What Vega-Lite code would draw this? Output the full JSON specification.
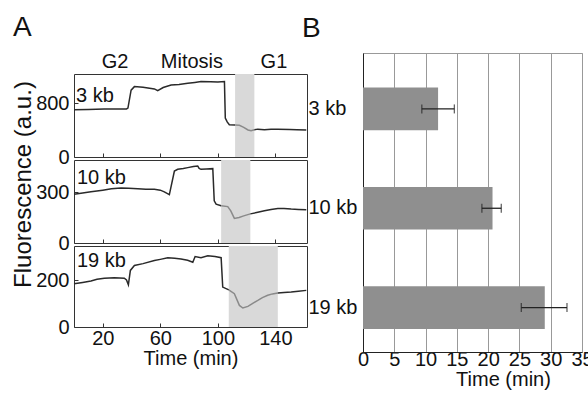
{
  "$schema": "https://vega.github.io/schema/vega-lite/v6.json",
  "padding": {"left": 10, "top": 14, "right": 0, "bottom": 0},
  "background": "white",
  "config": {
    "font": "Liberation Sans",
    "view": {"stroke": "#333", "strokeWidth": 1},
    "axis": {"labelFontSize": 20, "titleFontSize": 20, "titleFontWeight": "normal", "labelColor": "#111", "titleColor": "#111", "grid": false, "tickColor": "#333", "domainColor": "#222", "labelOverlap": false},
    "title": {"fontSize": 28, "fontWeight": "normal", "color": "#111"}
  },
  "datasets": {
    "phases": [
      {"label": "G2", "t": 28.5},
      {"label": "Mitosis", "t": 82},
      {"label": "G1", "t": 139}
    ],
    "shade": [
      {"p": 1, "s": 112, "e": 125.4},
      {"p": 2, "s": 102.3, "e": 122.6},
      {"p": 3, "s": 107.6, "e": 141.7}
    ],
    "tags": [
      {"p": 1, "t": 1.4, "v": 821, "label": "3 kb"},
      {"p": 2, "t": 2, "v": 347, "label": "10 kb"},
      {"p": 3, "t": 2, "v": 257, "label": "19 kb"}
    ],
    "lines": [
      {"p":1,"s":"a","t":0,"v":699},{"p":1,"s":"a","t":10,"v":705},{"p":1,"s":"a","t":21,"v":713},{"p":1,"s":"a","t":30,"v":712},{"p":1,"s":"a","t":36.5,"v":713},{"p":1,"s":"a","t":37.5,"v":725},{"p":1,"s":"a","t":39.7,"v":990},{"p":1,"s":"a","t":42,"v":1043},{"p":1,"s":"a","t":48,"v":1035},{"p":1,"s":"a","t":55.9,"v":1009},{"p":1,"s":"a","t":58.2,"v":984},{"p":1,"s":"a","t":62,"v":1030},{"p":1,"s":"a","t":67.5,"v":1068},{"p":1,"s":"a","t":73,"v":1075},{"p":1,"s":"a","t":79.1,"v":1093},{"p":1,"s":"a","t":84,"v":1105},{"p":1,"s":"a","t":88.3,"v":1117},{"p":1,"s":"a","t":95,"v":1115},{"p":1,"s":"a","t":100,"v":1112},{"p":1,"s":"a","t":104.6,"v":1117},{"p":1,"s":"a","t":105.2,"v":576},{"p":1,"s":"a","t":106.5,"v":520},{"p":1,"s":"a","t":108,"v":477},{"p":1,"s":"a","t":112,"v":475},
      {"p":1,"s":"b","t":112,"v":475},{"p":1,"s":"b","t":115,"v":470},{"p":1,"s":"b","t":118,"v":440},{"p":1,"s":"b","t":121,"v":400},{"p":1,"s":"b","t":123.1,"v":388},{"p":1,"s":"b","t":125.4,"v":405},
      {"p":1,"s":"c","t":125.4,"v":405},{"p":1,"s":"c","t":127.8,"v":413},{"p":1,"s":"c","t":132.4,"v":404},{"p":1,"s":"c","t":137,"v":410},{"p":1,"s":"c","t":141.7,"v":413},{"p":1,"s":"c","t":150,"v":408},{"p":1,"s":"c","t":155,"v":404},{"p":1,"s":"c","t":161.5,"v":399},
      {"p":2,"s":"a","t":0,"v":288},{"p":2,"s":"a","t":6,"v":295},{"p":2,"s":"a","t":11.8,"v":302},{"p":2,"s":"a","t":20,"v":312},{"p":2,"s":"a","t":26,"v":320},{"p":2,"s":"a","t":32.7,"v":325},{"p":2,"s":"a","t":38,"v":323},{"p":2,"s":"a","t":44.3,"v":321},{"p":2,"s":"a","t":50,"v":318},{"p":2,"s":"a","t":55.9,"v":317},{"p":2,"s":"a","t":60,"v":312},{"p":2,"s":"a","t":62.8,"v":302},{"p":2,"s":"a","t":66.3,"v":286},{"p":2,"s":"a","t":69.8,"v":425},{"p":2,"s":"a","t":72.1,"v":435},{"p":2,"s":"a","t":76,"v":440},{"p":2,"s":"a","t":79.1,"v":445},{"p":2,"s":"a","t":83,"v":452},{"p":2,"s":"a","t":86,"v":455},{"p":2,"s":"a","t":87,"v":440},{"p":2,"s":"a","t":88.3,"v":435},{"p":2,"s":"a","t":92,"v":437},{"p":2,"s":"a","t":96.5,"v":439},{"p":2,"s":"a","t":97.5,"v":249},{"p":2,"s":"a","t":98.8,"v":229},{"p":2,"s":"a","t":102.3,"v":220},
      {"p":2,"s":"b","t":102.3,"v":220},{"p":2,"s":"b","t":106.9,"v":215},{"p":2,"s":"b","t":109,"v":190},{"p":2,"s":"b","t":111.5,"v":145},{"p":2,"s":"b","t":114.8,"v":151},{"p":2,"s":"b","t":118,"v":160},{"p":2,"s":"b","t":122.6,"v":172},
      {"p":2,"s":"c","t":122.6,"v":172},{"p":2,"s":"c","t":127,"v":180},{"p":2,"s":"c","t":132.4,"v":190},{"p":2,"s":"c","t":137,"v":198},{"p":2,"s":"c","t":141.7,"v":204},{"p":2,"s":"c","t":146,"v":203},{"p":2,"s":"c","t":151,"v":200},{"p":2,"s":"c","t":156,"v":198},{"p":2,"s":"c","t":161.5,"v":196},
      {"p":3,"s":"a","t":0,"v":184},{"p":3,"s":"a","t":6,"v":190},{"p":3,"s":"a","t":11.8,"v":196},{"p":3,"s":"a","t":16,"v":203},{"p":3,"s":"a","t":21.1,"v":208},{"p":3,"s":"a","t":28,"v":210},{"p":3,"s":"a","t":35,"v":208},{"p":3,"s":"a","t":36.5,"v":200},{"p":3,"s":"a","t":37.8,"v":180},{"p":3,"s":"a","t":39.2,"v":241},{"p":3,"s":"a","t":42,"v":262},{"p":3,"s":"a","t":48,"v":270},{"p":3,"s":"a","t":55.9,"v":283},{"p":3,"s":"a","t":60,"v":288},{"p":3,"s":"a","t":65.2,"v":295},{"p":3,"s":"a","t":70,"v":293},{"p":3,"s":"a","t":74.4,"v":290},{"p":3,"s":"a","t":79,"v":284},{"p":3,"s":"a","t":82.6,"v":276},{"p":3,"s":"a","t":84.2,"v":300},{"p":3,"s":"a","t":88.3,"v":295},{"p":3,"s":"a","t":93,"v":303},{"p":3,"s":"a","t":98,"v":300},{"p":3,"s":"a","t":102.3,"v":295},{"p":3,"s":"a","t":103.4,"v":170},{"p":3,"s":"a","t":106.9,"v":160},{"p":3,"s":"a","t":107.6,"v":158},
      {"p":3,"s":"b","t":107.6,"v":158},{"p":3,"s":"b","t":111.5,"v":142},{"p":3,"s":"b","t":115,"v":92},{"p":3,"s":"b","t":117.4,"v":81},{"p":3,"s":"b","t":120.9,"v":88},{"p":3,"s":"b","t":124,"v":100},{"p":3,"s":"b","t":127.8,"v":113},{"p":3,"s":"b","t":131,"v":125},{"p":3,"s":"b","t":134.7,"v":135},{"p":3,"s":"b","t":138,"v":141},{"p":3,"s":"b","t":141.7,"v":145},
      {"p":3,"s":"c","t":141.7,"v":145},{"p":3,"s":"c","t":146,"v":147},{"p":3,"s":"c","t":151,"v":149},{"p":3,"s":"c","t":156,"v":152},{"p":3,"s":"c","t":161.5,"v":156}
    ],
    "bars": [
      {"label": "3 kb", "mean": 12.0, "lo": 9.4, "hi": 14.6},
      {"label": "10 kb", "mean": 20.7, "lo": 19.0, "hi": 22.1},
      {"label": "19 kb", "mean": 29.05, "lo": 25.3, "hi": 32.6}
    ]
  },
  "spacing": -9,
  "hconcat": [
    {
      "spacing": 3,
      "bounds": "flush",
      "vconcat": [
        {
          "title": {"text": "A", "anchor": "start", "frame": "group", "dx": -61, "offset": -12, "baseline": "alphabetic", "fontSize": 28, "fontWeight": "normal"},
          "width": 233, "height": 18,
          "view": {"stroke": null},
          "data": {"name": "phases"},
          "mark": {"type": "text", "fontSize": 20, "baseline": "middle", "color": "#111"},
          "encoding": {
            "x": {"field": "t", "type": "quantitative", "scale": {"domain": [0, 162], "nice": false}, "axis": null},
            "text": {"field": "label"}
          }
        },
        {
          "width": 233, "height": 83,
          "layer": [
            {"data": {"name": "shade"}, "transform": [{"filter": "datum.p == 1"}], "mark": {"type": "rect", "color": "#d9d9d9"},
             "encoding": {"x": {"field": "s", "type": "quantitative", "scale": {"domain": [0, 162], "nice": false},
               "axis": {"values": [20,40,60,80,100,120,140,160], "labels": false, "title": null, "tickSize": -4, "domain": false}},
               "x2": {"field": "e"}}},
            {"data": {"name": "lines"}, "transform": [{"filter": "datum.p == 1"}], "mark": {"type": "line", "strokeWidth": 1.5},
             "encoding": {"x": {"field": "t", "type": "quantitative"},
               "y": {"field": "v", "type": "quantitative", "scale": {"domain": [0, 1230], "nice": false},
                 "axis": {"values": [0, 800], "labelOverlap": false, "tickSize": -4, "labelPadding": 9, "domain": false, "title": null}},
               "color": {"field": "s", "type": "nominal", "scale": {"domain": ["a", "b", "c"], "range": ["#2a2a2a", "#8a8a8a", "#2a2a2a"]}, "legend": null}}},
            {"data": {"name": "tags"}, "transform": [{"filter": "datum.p == 1"}], "mark": {"type": "text", "align": "left", "baseline": "alphabetic", "fontSize": 20, "color": "#111"},
             "encoding": {"x": {"field": "t", "type": "quantitative"}, "y": {"field": "v", "type": "quantitative"}, "text": {"field": "label"}}}
          ]
        },
        {
          "width": 233, "height": 83,
          "layer": [
            {"data": {"name": "shade"}, "transform": [{"filter": "datum.p == 2"}], "mark": {"type": "rect", "color": "#d9d9d9"},
             "encoding": {"x": {"field": "s", "type": "quantitative", "scale": {"domain": [0, 162], "nice": false},
               "axis": {"values": [20,40,60,80,100,120,140,160], "labels": false, "title": null, "tickSize": -4, "domain": false}},
               "x2": {"field": "e"}}},
            {"data": {"name": "lines"}, "transform": [{"filter": "datum.p == 2"}], "mark": {"type": "line", "strokeWidth": 1.5},
             "encoding": {"x": {"field": "t", "type": "quantitative"},
               "y": {"field": "v", "type": "quantitative", "scale": {"domain": [0, 490], "nice": false},
                 "axis": {"values": [0, 300], "labelOverlap": false, "tickSize": -4, "labelPadding": 9, "domain": false,
                   "title": "Fluorescence (a.u.)", "titleFontSize": 24, "titleX": -51, "titleY": 24, "titleAngle": -90, "titleAlign": "center", "titleBaseline": "middle"}},
               "color": {"field": "s", "type": "nominal", "scale": {"domain": ["a", "b", "c"], "range": ["#2a2a2a", "#8a8a8a", "#2a2a2a"]}, "legend": null}}},
            {"data": {"name": "tags"}, "transform": [{"filter": "datum.p == 2"}], "mark": {"type": "text", "align": "left", "baseline": "alphabetic", "fontSize": 20, "color": "#111"},
             "encoding": {"x": {"field": "t", "type": "quantitative"}, "y": {"field": "v", "type": "quantitative"}, "text": {"field": "label"}}}
          ]
        },
        {
          "width": 233, "height": 81,
          "layer": [
            {"data": {"name": "shade"}, "transform": [{"filter": "datum.p == 3"}], "mark": {"type": "rect", "color": "#d9d9d9"},
             "encoding": {"x": {"field": "s", "type": "quantitative", "scale": {"domain": [0, 162], "nice": false},
               "axis": {"values": [20,40,60,80,100,120,140,160], "labelExpr": "datum.value % 40 == 20 ? datum.label : ''", "labelPadding": 5, "labelFlush": false, "title": "Time (min)", "titlePadding": 0, "tickSize": -4, "domain": false}},
               "x2": {"field": "e"}}},
            {"data": {"name": "lines"}, "transform": [{"filter": "datum.p == 3"}], "mark": {"type": "line", "strokeWidth": 1.5},
             "encoding": {"x": {"field": "t", "type": "quantitative"},
               "y": {"field": "v", "type": "quantitative", "scale": {"domain": [0, 345], "nice": false},
                 "axis": {"values": [0, 200], "labelOverlap": false, "tickSize": -4, "labelPadding": 9, "domain": false, "title": null}},
               "color": {"field": "s", "type": "nominal", "scale": {"domain": ["a", "b", "c"], "range": ["#2a2a2a", "#8a8a8a", "#2a2a2a"]}, "legend": null}}},
            {"data": {"name": "tags"}, "transform": [{"filter": "datum.p == 3"}], "mark": {"type": "text", "align": "left", "baseline": "alphabetic", "fontSize": 20, "color": "#111"},
             "encoding": {"x": {"field": "t", "type": "quantitative"}, "y": {"field": "v", "type": "quantitative"}, "text": {"field": "label"}}}
          ]
        }
      ]
    },
    {
      "title": {"text": "B", "anchor": "start", "frame": "group", "dx": -61, "offset": -12, "baseline": "alphabetic", "fontSize": 28, "fontWeight": "normal"},
      "width": 219, "height": 299,
      "view": {"stroke": "#999"},
      "data": {"name": "bars"},
      "layer": [
        {"mark": {"type": "bar", "color": "#8f8f8f"},
         "encoding": {
           "y": {"field": "label", "type": "nominal", "sort": null, "scale": {"paddingInner": 0.57, "paddingOuter": 0.29, "align": 0.6},
             "axis": {"title": null, "ticks": false, "labelAlign": "left", "labelPadding": 55, "labelBaseline": "middle"}},
           "x": {"field": "mean", "type": "quantitative", "scale": {"domain": [0, 35], "nice": false},
             "axis": {"values": [0,5,10,15,20,25,30,35], "grid": true, "gridColor": "#999", "ticks": false, "labelPadding": -3, "labelFlush": false, "labelOverlap": false, "title": "Time (min)", "titleX": 140, "titlePadding": 0}}
         }},
        {"mark": {"type": "rule", "color": "#222", "strokeWidth": 1.3},
         "encoding": {"y": {"field": "label", "type": "nominal", "sort": null},
           "x": {"field": "lo", "type": "quantitative", "axis": {"values": [0,5,10,15,20,25,30,35], "grid": true, "gridColor": "#999", "ticks": false, "labelPadding": -3, "labelFlush": false, "labelOverlap": false, "title": "Time (min)", "titleX": 140, "titlePadding": 0}},
           "x2": {"field": "hi"}}},
        {"mark": {"type": "tick", "color": "#222", "thickness": 1.3, "size": 9},
         "encoding": {"y": {"field": "label", "type": "nominal", "sort": null},
           "x": {"field": "lo", "type": "quantitative", "axis": {"values": [0,5,10,15,20,25,30,35], "grid": true, "gridColor": "#999", "ticks": false, "labelPadding": -3, "labelFlush": false, "labelOverlap": false, "title": "Time (min)", "titleX": 140, "titlePadding": 0}}}},
        {"mark": {"type": "tick", "color": "#222", "thickness": 1.3, "size": 9},
         "encoding": {"y": {"field": "label", "type": "nominal", "sort": null},
           "x": {"field": "hi", "type": "quantitative", "axis": {"values": [0,5,10,15,20,25,30,35], "grid": true, "gridColor": "#999", "ticks": false, "labelPadding": -3, "labelFlush": false, "labelOverlap": false, "title": "Time (min)", "titleX": 140, "titlePadding": 0}}}}
      ]
    }
  ]
}
